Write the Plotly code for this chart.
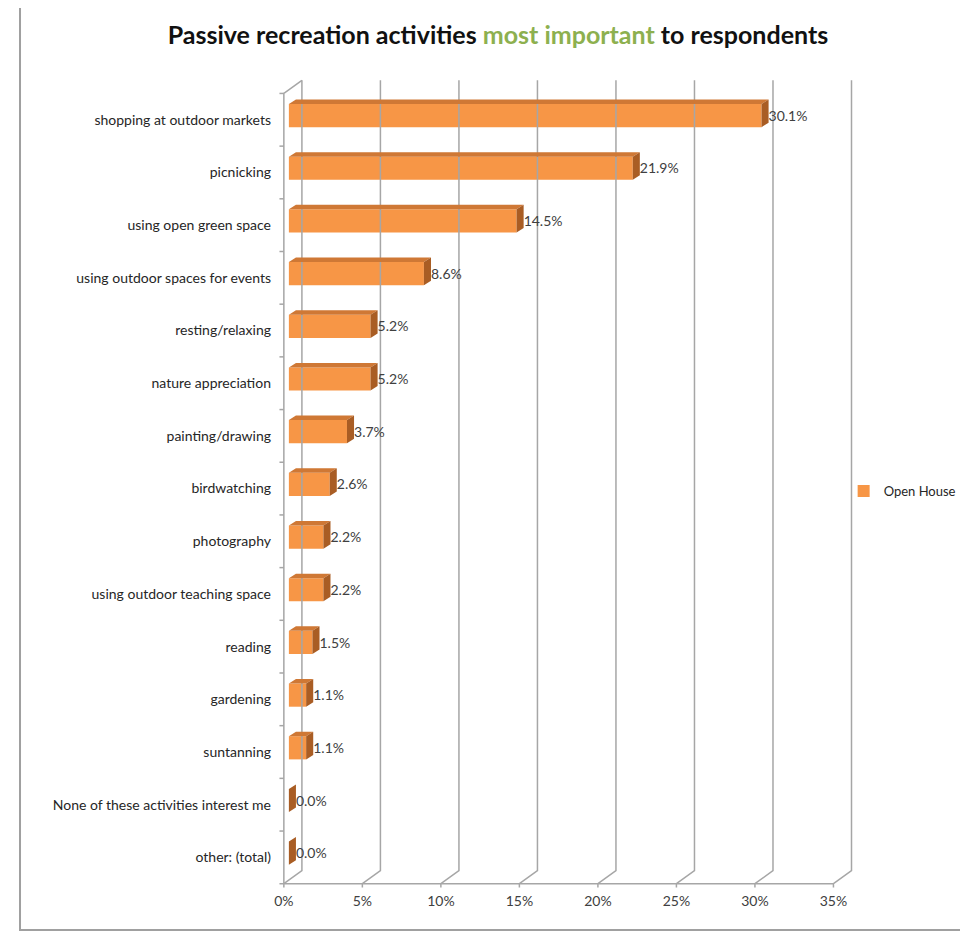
import plotly.graph_objects as go

# données (de haut en bas comme dans le graphique)
activities = [
    "shopping at outdoor markets", "picnicking", "using open green space",
    "using outdoor spaces for events", "resting/relaxing", "nature appreciation",
    "painting/drawing", "birdwatching", "photography", "using outdoor teaching space",
    "reading", "gardening", "suntanning", "None of these activities interest me",
    "other: (total)",
]
open_house = [30.1, 21.9, 14.5, 8.6, 5.2, 5.2, 3.7, 2.6, 2.2, 2.2, 1.5, 1.1, 1.1, 0.0, 0.0]
x_ticks = [0, 5, 10, 15, 20, 25, 30, 35]
x_labels = [f"{t}%" for t in x_ticks]

n = len(activities)
# position de chaque barre sur l'axe y (0 = en bas)
pos = [n - 1 - i + 0.5 for i in range(n)]

# effet 3D "Excel" : profondeur du mur et des barres (en unités d'axes)
wall_dx, wall_dy = 1.15, 0.25
bar_dx, bar_dy = 0.45, 0.085
bar_x0 = 0.32
bar_lo, bar_h = -0.14, 0.44
grid_col = "#a6a6a6"

traces = []

# grille en perspective : sol, diagonales et murs
gx, gy = [], []
for t in x_ticks:
    gx += [t, t, t + wall_dx, t + wall_dx, None]
    gy += [-0.07, 0, wall_dy, n + wall_dy, None]
gx += [0, x_ticks[-1], None, 0, 0, wall_dx, None]
gy += [0, 0, None, 0, n, n + wall_dy, None]
for k in range(n + 1):
    gx += [-0.28, 0, None]
    gy += [k, k, None]
traces.append(go.Scatter(x=gx, y=gy, mode="lines", line=dict(color=grid_col, width=1.5),
                         hoverinfo="skip", showlegend=False))

# face avant des barres
traces.append(go.Bar(
    y=pos, x=open_house, base=bar_x0, orientation="h", width=bar_h, offset=bar_lo,
    marker=dict(color="#f79646", line=dict(width=0)), name="Open House",
    hovertemplate="%{customdata}: %{x:.1f}%<extra></extra>", customdata=activities,
))

# faces du dessus et de côté
tx, ty, sx, sy = [], [], [], []
for v, c in zip(open_house, pos):
    x1 = bar_x0 + v
    yt = c + bar_lo + bar_h
    yb = c + bar_lo
    tx += [bar_x0, x1, x1 + bar_dx, bar_x0 + bar_dx, bar_x0, None]
    ty += [yt, yt, yt + bar_dy, yt + bar_dy, yt, None]
    sx += [x1, x1, x1 + bar_dx, x1 + bar_dx, x1, None]
    sy += [yb, yt, yt + bar_dy, yb + bar_dy, yb, None]
traces.append(go.Scatter(x=tx, y=ty, mode="lines", fill="toself", fillcolor="#cf7835",
                         line=dict(width=0, color="#cf7835"), hoverinfo="skip", showlegend=False))
traces.append(go.Scatter(x=sx, y=sy, mode="lines", fill="toself", fillcolor="#a95d24",
                         line=dict(width=0, color="#a95d24"), hoverinfo="skip", showlegend=False))

# étiquettes de valeurs
traces.append(go.Scatter(
    x=[bar_x0 + v + bar_dx for v in open_house], y=[c + 0.05 for c in pos],
    mode="text", text=[f"{v:.1f}%" for v in open_house], textposition="middle right",
    textfont=dict(size=14, color="#404040"), hoverinfo="skip", showlegend=False,
))

# la page ajoute ~8 px de marge autour du graphique : on compense
layout = go.Layout(
    width=960, height=924,
    margin=dict(l=268, r=111, t=67, b=43, autoexpand=False),
    paper_bgcolor="white", plot_bgcolor="white",
    font=dict(family="Lato", size=14, color="#404040"),
    title=dict(
        text="<b>Passive recreation activities <span style='color:#8db04f'>most important</span> to respondents</b>",
        x=0.5104, xanchor="center", y=0.9708, yanchor="middle", yref="container",
        font=dict(family="Lato", size=25, color="#111111"),
    ),
    xaxis=dict(range=[-0.5, 36.5], tickvals=x_ticks, ticktext=x_labels, showgrid=False,
               zeroline=False, showline=False, ticks="", tickfont=dict(size=14, color="#404040"),
               ticklabelstandoff=2),
    yaxis=dict(range=[-0.1, 15.35], tickvals=pos, ticktext=activities, showgrid=False,
               zeroline=False, showline=False, ticks="", tickfont=dict(size=14, color="#262626"),
               ticklabelstandoff=4),
    legend=dict(x=0.977, y=0.489, xanchor="left", yanchor="middle", font=dict(size=13, color="#262626"),
                bgcolor="rgba(0,0,0,0)", itemwidth=30),
    showlegend=True,
    shapes=[dict(type="rect", xref="paper", yref="paper", x0=-0.4406, x1=1.189, y0=-0.0504, y1=1.0885,
                 line=dict(color="#a0a0a0", width=2))],
)

fig = go.Figure(data=traces, layout=layout)
fig.write_html("out.html")
